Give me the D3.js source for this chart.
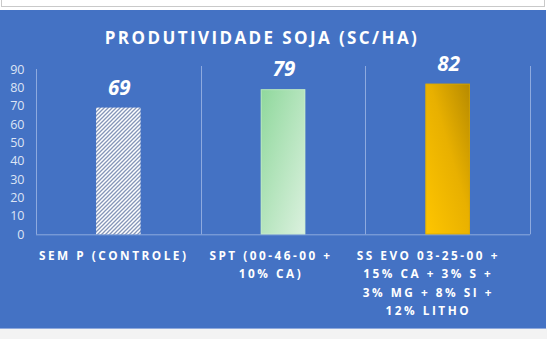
<!DOCTYPE html>
<html><head><meta charset="utf-8">
<script src="https://cdn.jsdelivr.net/npm/d3@7"></script>
<style>html,body{margin:0;padding:0;background:#fff;}svg{display:block;}</style>
</head><body>
<script>
const title = "PRODUTIVIDADE SOJA (SC/HA)";
const categories = ["SEM P (CONTROLE)", "SPT (00-46-00 + 10% CA)", "SS EVO 03-25-00 + 15% CA + 3% S + 3% MG + 8% SI + 12% LITHO"];
const labelLines = [["SEM P (CONTROLE)"], ["SPT (00-46-00 +", "10% CA)"], ["SS EVO 03-25-00 +", "15% CA + 3% S +", "3% MG + 8% SI +", "12% LITHO"]];
const values = [69, 79, 82];
const yTicks = [0, 10, 20, 30, 40, 50, 60, 70, 80, 90];

const W = 547, H = 339;
const svg = d3.select("body").append("svg").attr("width", W).attr("height", H);
const defs = svg.append("defs");

// hatch pattern
const pat = defs.append("pattern").attr("id", "hatch").attr("patternUnits", "userSpaceOnUse")
  .attr("width", 4).attr("height", 4);
pat.append("rect").attr("width", 4).attr("height", 4).attr("fill", "#ffffff");
pat.append("path").attr("d", "M-1,1 l2,-2 M0,4 l4,-4 M3,5 l2,-2").attr("stroke", "#8595b8").attr("stroke-width", 1.3);

const g2 = defs.append("linearGradient").attr("id", "green").attr("x1", "0").attr("y1", "0").attr("x2", "1").attr("y2", "1");
g2.append("stop").attr("offset", "0").attr("stop-color", "#8fd89c");
g2.append("stop").attr("offset", "1").attr("stop-color", "#dcf1df");
const g3 = defs.append("linearGradient").attr("id", "gold").attr("x1", "1").attr("y1", "0").attr("x2", "0").attr("y2", "1");
g3.append("stop").attr("offset", "0").attr("stop-color", "#b68a00");
g3.append("stop").attr("offset", "0.45").attr("stop-color", "#e8b000");
g3.append("stop").attr("offset", "1").attr("stop-color", "#ffc600");
const fills = ["url(#hatch)", "url(#green)", "url(#gold)"];

// top white box border
svg.append("rect").attr("x", 1.5).attr("y", -5).attr("width", 543).attr("height", 11.5)
  .attr("fill", "#fff").attr("stroke", "#c9c9c9");
// bottom grey
svg.append("rect").attr("x", 0).attr("y", 328).attr("width", W).attr("height", 11).attr("fill", "#f3f3f3");
// blue panel
svg.append("rect").attr("x", 0).attr("y", 10).attr("width", 546).attr("height", 318).attr("fill", "#4472c4");
svg.append("line").attr("x1", 0).attr("x2", 546).attr("y1", 328.5).attr("y2", 328.5).attr("stroke", "#8fa9dc");

const x = d3.scaleBand().domain(categories).range([36, 530]).paddingInner(0).paddingOuter(0);
const y = d3.scaleLinear().domain([0, 90]).range([234.3, 69]);

// vertical gridlines at category boundaries
const bounds = categories.map(c => x(c)).concat([x(categories[2]) + x.bandwidth()]);
svg.append("g").selectAll("line").data(bounds.slice(1)).join("line")
  .attr("x1", d => Math.round(d) + 0.5).attr("x2", d => Math.round(d) + 0.5)
  .attr("y1", y(90) - 3).attr("y2", y(0))
  .attr("stroke", "#8eaadf").attr("stroke-width", 1);

// y axis
const yAxis = svg.append("g").attr("transform", "translate(36.5,0)")
  .call(d3.axisLeft(y).tickValues(yTicks).tickSize(0).tickPadding(12));
yAxis.select(".domain").attr("stroke", "#8eaadf").attr("d", `M0,${y(90)}V${y(0)}`);
yAxis.selectAll("text").attr("fill", "#dde5f5").attr("font-family", "Open Sans, sans-serif").attr("font-size", 12.5);

// x axis baseline
svg.append("line").attr("x1", 36).attr("x2", 530).attr("y1", y(0) + 0.5).attr("y2", y(0) + 0.5)
  .attr("stroke", "#8eaadf");

// bars
const bw = 44.5;
svg.append("g").selectAll("rect").data(values).join("rect")
  .attr("x", (d, i) => x(categories[i]) + x.bandwidth() / 2 - bw / 2)
  .attr("y", d => y(d)).attr("width", bw).attr("height", d => y(0) - y(d))
  .attr("fill", (d, i) => fills[i]);
svg.append("g").selectAll("rect").data(values.slice(1)).join("rect")
  .attr("x", (d, i) => x(categories[i + 1]) + x.bandwidth() / 2 - bw / 2 + 0.5)
  .attr("y", d => y(d) + 0.5).attr("width", bw - 1).attr("height", d => y(0) - y(d) - 1)
  .attr("fill", "none").attr("stroke", (d, i) => i === 0 ? "#c8ecd0" : "#d9a800").attr("stroke-opacity", 0.6);

// data labels
svg.append("g").selectAll("text").data(values).join("text")
  .attr("x", (d, i) => x(categories[i]) + x.bandwidth() / 2 + 1)
  .attr("y", d => y(d) - 13)
  .attr("text-anchor", "middle").attr("fill", "#fff")
  .attr("font-family", "Open Sans, sans-serif").attr("font-weight", "bold").attr("font-style", "italic")
  .attr("font-size", 20.5)
  .text(d => d);

// title
svg.append("text").attr("x", 262).attr("y", 44).attr("text-anchor", "middle")
  .attr("fill", "#fff").attr("font-family", "Open Sans, sans-serif").attr("font-weight", "bold")
  .attr("font-size", 17).attr("letter-spacing", 2.4).text(title);

// x labels
const xl = d3.scaleBand().domain(categories).range([35, 507]);
const lg = svg.append("g");
labelLines.forEach((lines, i) => {
  const t = lg.append("text").attr("text-anchor", "middle").attr("fill", "#fff")
    .attr("font-family", "Open Sans, sans-serif").attr("font-weight", "bold").attr("font-size", 11.8)
    .attr("letter-spacing", 2.5);
  lines.forEach((s, j) => {
    t.append("tspan").attr("x", xl(categories[i]) + xl.bandwidth() / 2).attr("y", 259.5 + j * 18.5).text(s);
  });
});
</script>
</body></html>
